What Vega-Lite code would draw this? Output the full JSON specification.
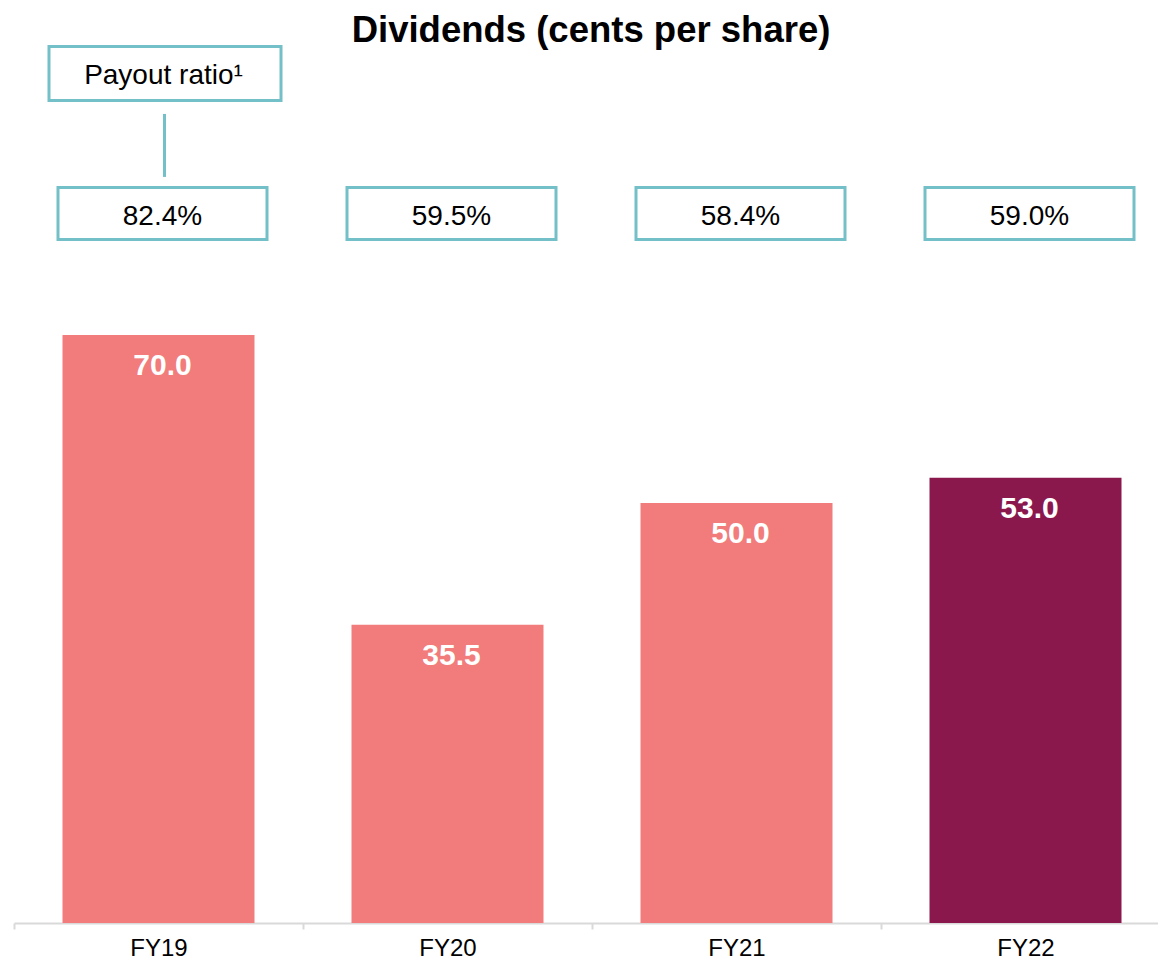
{
  "$schema": "https://vega.github.io/schema/vega-lite/v6.json",
  "width": 1144,
  "height": 877,
  "autosize": {"type": "none"},
  "padding": {"left": 14, "top": 46, "right": 0, "bottom": 40},
  "background": "white",
  "title": {
    "text": "Dividends (cents per share)",
    "fontSize": 36.5,
    "fontWeight": "bold",
    "font": "Liberation Sans",
    "color": "black",
    "anchor": "middle",
    "frame": "group",
    "baseline": "alphabetic",
    "dx": 5,
    "offset": -33
  },
  "config": {"view": {"stroke": null}, "font": "Liberation Sans"},
  "datasets": {
    "dividends": [
      {"year": "FY19", "dps": 70.0, "payout": "82.4%"},
      {"year": "FY20", "dps": 35.5, "payout": "59.5%"},
      {"year": "FY21", "dps": 50.0, "payout": "58.4%"},
      {"year": "FY22", "dps": 53.0, "payout": "59.0%"}
    ],
    "header": [{"year": "FY19", "label": "Payout ratio¹"}]
  },
  "data": {"name": "dividends"},
  "encoding": {
    "x": {
      "field": "year",
      "type": "nominal",
      "sort": null,
      "scale": {"range": [0, 1156], "paddingInner": 0, "paddingOuter": 0},
      "axis": {
        "title": null,
        "domainColor": "#D9D9D9",
        "domainWidth": 2,
        "tickColor": "#D9D9D9",
        "tickWidth": 2,
        "tickSize": 6,
        "tickBand": "extent",
        "labelFontSize": 24,
        "labelColor": "black",
        "labelPadding": 7,
        "labelAngle": 0,
        "labelFont": "Liberation Sans"
      }
    }
  },
  "layer": [
    {
      "mark": {"type": "bar", "width": 192},
      "encoding": {
        "y": {"field": "dps", "type": "quantitative", "scale": {"domain": [0, 104.42], "nice": false, "zero": true}, "axis": null},
        "color": {"condition": {"test": "datum.year === 'FY22'", "value": "#8A184D"}, "value": "#F17C7B"}
      }
    },
    {
      "mark": {"type": "text", "fontSize": 30, "fontWeight": "bold", "color": "white", "baseline": "alphabetic", "dy": 40, "xOffset": 4},
      "encoding": {
        "y": {"field": "dps", "type": "quantitative"},
        "text": {"field": "dps", "type": "quantitative", "format": ".1f"}
      }
    },
    {
      "mark": {"type": "bar", "width": 209, "xOffset": 4, "fill": "white", "stroke": "#74C0C8", "strokeWidth": 3},
      "encoding": {
        "y": {"datum": 87.56, "type": "quantitative"},
        "y2": {"datum": 81.37}
      }
    },
    {
      "mark": {"type": "text", "fontSize": 28, "color": "black", "baseline": "middle", "xOffset": 4},
      "encoding": {
        "y": {"datum": 84.1, "type": "quantitative"},
        "text": {"field": "payout", "type": "nominal"}
      }
    },
    {
      "data": {"name": "header"},
      "mark": {"type": "bar", "width": 232, "xOffset": 6.5, "fill": "white", "stroke": "#74C0C8", "strokeWidth": 3},
      "encoding": {
        "y": {"datum": 104.36, "type": "quantitative"},
        "y2": {"datum": 97.93}
      }
    },
    {
      "data": {"name": "header"},
      "mark": {"type": "text", "fontSize": 28, "color": "black", "baseline": "middle", "xOffset": 5},
      "encoding": {
        "y": {"datum": 100.9, "type": "quantitative"},
        "text": {"field": "label", "type": "nominal"}
      }
    },
    {
      "data": {"name": "header"},
      "mark": {"type": "rule", "xOffset": 6, "color": "#74C0C8", "strokeWidth": 3},
      "encoding": {
        "y": {"datum": 96.33, "type": "quantitative"},
        "y2": {"datum": 88.83}
      }
    }
  ]
}
